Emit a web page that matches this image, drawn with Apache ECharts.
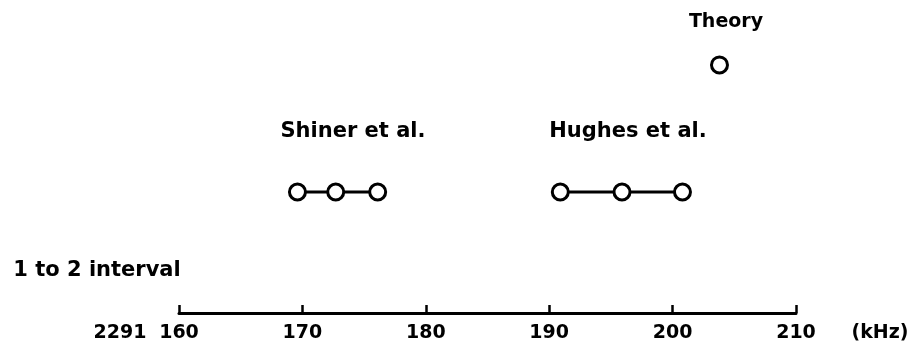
<!doctype html>
<html>
<head>
    <meta charset="utf-8">
    <title>1 to 2 interval</title>
    <script src="https://cdn.jsdelivr.net/npm/echarts@6/dist/echarts.min.js"></script>
</head>
<body style="margin:0;padding:0;background:#fff">
    <div id="tb" style="width:918px;height:354px"></div>
    <script>
        // measured values (kHz), level on the hidden y axis
        var shiner = [169.6, 172.7, 176.1];
        var hughes = [190.9, 195.9, 200.8];
        var theory = [203.8];
        var expLevel = 1;
        var theoryLevel = 2.05;
        var xMin = 160, xMax = 210, xStep = 10;

        var font = 'DejaVu Sans';
        var ink = '#000';

        function pts(xs, lvl) {
            return xs.map(function (x) { return [x, lvl]; });
        }
        // free labels, placed by their centre
        function txt(s, cx, cy, size) {
            return {
                type: 'text', x: cx, y: cy,
                style: {
                    text: s, fontFamily: font, fontSize: size, fontWeight: 'bold', fill: ink,
                    align: 'center', verticalAlign: 'middle'
                }
            };
        }

        var chart = echarts.init(document.getElementById('tb'));
        var dot = {
            type: 'line',
            symbol: 'circle',
            symbolSize: 16,
            itemStyle: { color: '#fff', borderColor: ink, borderWidth: 3 },
            lineStyle: { color: ink, width: 3 },
            animation: false,
            z: 3
        };

        chart.setOption({
            animation: false,
            grid: { left: 179, right: 122, top: 10.5, bottom: 41 },
            xAxis: {
                type: 'value',
                min: xMin,
                max: xMax,
                interval: xStep,
                axisLine: { lineStyle: { color: ink, width: 3 } },
                axisTick: { inside: true, length: 8, lineStyle: { color: ink, width: 2.5 } },
                splitLine: { show: false },
                axisLabel: { color: ink, fontFamily: font, fontSize: 19, fontWeight: 'bold', margin: 11 }
            },
            yAxis: { type: 'value', min: 0, max: 2.5, show: false },
            graphic: [
                txt('1 to 2 interval', 97, 271, 21),
                txt('2291', 120, 333, 19),
                txt('(kHz)', 880, 333, 19),
                txt('Shiner et al.', 353, 132, 21),
                txt('Hughes et al.', 628, 132, 21),
                txt('Theory', 726, 22, 19)
            ],
            series: [
                Object.assign({ name: 'Shiner et al.', data: pts(shiner, expLevel) }, dot),
                Object.assign({ name: 'Hughes et al.', data: pts(hughes, expLevel) }, dot),
                Object.assign({ name: 'Theory', data: pts(theory, theoryLevel) }, dot)
            ]
        });
    </script>
</body>
</html>
